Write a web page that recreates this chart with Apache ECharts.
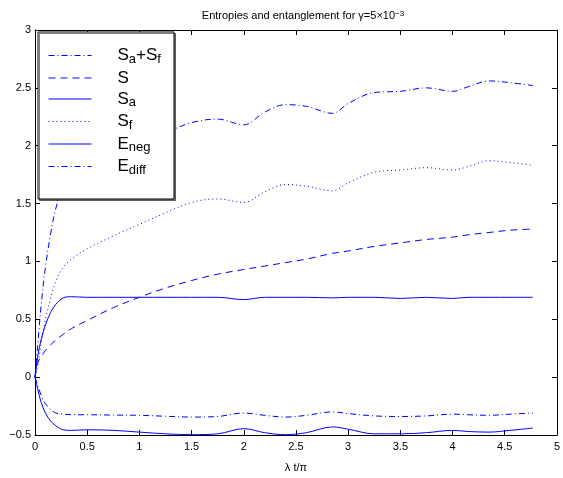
<!DOCTYPE html>
<html>
<head>
<meta charset="utf-8">
<script src="https://cdn.jsdelivr.net/npm/echarts@6/dist/echarts.min.js"></script>
<style>
html,body{margin:0;padding:0;background:#fff;}
#c{width:563px;height:478px;}
</style>
</head>
<body>
<div id="c"></div>
<script>
// ---- data ----
var t     = [0, 0.03, 0.06, 0.1, 0.15, 0.2, 0.27, 0.35, 0.5, 0.75, 1.0, 1.25, 1.5, 1.75, 2.0, 2.2, 2.4, 2.6, 2.85, 3.0, 3.25, 3.5, 3.75, 4.0, 4.15, 4.35, 4.55, 4.77];
var SaSf  = [0, 0.32, 0.63, 0.95, 1.24, 1.46, 1.64, 1.72, 1.80, 1.91, 2.01, 2.11, 2.20, 2.23, 2.18, 2.29, 2.355, 2.34, 2.28, 2.365, 2.46, 2.47, 2.50, 2.47, 2.51, 2.56, 2.545, 2.52];
var S     = [0, 0.13, 0.18, 0.23, 0.28, 0.32, 0.37, 0.42, 0.49, 0.60, 0.69, 0.77, 0.835, 0.89, 0.93, 0.96, 0.99, 1.02, 1.07, 1.09, 1.13, 1.16, 1.19, 1.21, 1.23, 1.25, 1.27, 1.28];
var Sa    = [0, 0.20, 0.33, 0.45, 0.56, 0.63, 0.685, 0.695, 0.69, 0.69, 0.69, 0.69, 0.69, 0.69, 0.67, 0.69, 0.69, 0.69, 0.685, 0.69, 0.69, 0.68, 0.69, 0.68, 0.69, 0.69, 0.69, 0.69];
var Sf    = [0, 0.12, 0.30, 0.50, 0.68, 0.83, 0.95, 1.02, 1.11, 1.22, 1.32, 1.42, 1.51, 1.54, 1.51, 1.60, 1.665, 1.65, 1.61, 1.68, 1.77, 1.79, 1.81, 1.79, 1.82, 1.87, 1.855, 1.83];
var Eneg  = [0, -0.12, -0.22, -0.31, -0.38, -0.42, -0.455, -0.46, -0.455, -0.46, -0.475, -0.49, -0.497, -0.49, -0.445, -0.48, -0.497, -0.48, -0.43, -0.45, -0.49, -0.49, -0.48, -0.46, -0.47, -0.475, -0.46, -0.44];
var Ediff = [0, -0.08, -0.16, -0.23, -0.28, -0.31, -0.32, -0.325, -0.325, -0.328, -0.33, -0.338, -0.345, -0.34, -0.31, -0.33, -0.345, -0.33, -0.30, -0.315, -0.335, -0.34, -0.335, -0.32, -0.325, -0.33, -0.32, -0.31];
var seriesNames = ['Sa+Sf', 'S', 'Sa', 'Sf', 'Eneg', 'Ediff'];
var legendLabels = {
  'Sa+Sf': '{p|}{m|S}{s|a}{m|+S}{s|f}',
  'S': '{p|}{m|S}',
  'Sa': '{p|}{m|S}{s|a}',
  'Sf': '{p|}{m|S}{s|f}',
  'Eneg': '{p|}{m|E}{s|neg}',
  'Ediff': '{p|}{m|E}{s|diff}'
};
var xTicks = {min: 0, max: 5, interval: 0.5};
var yTicks = {min: -0.5, max: 3, interval: 0.5};
var titleText = 'Entropies and entanglement for γ=5×10{sup|−3}';
var xName = 'λ t/π';

// ---- chart ----
var FONT = 'Liberation Sans, Arial, sans-serif';
var BLUE = '#0000ff';
function pairs(ys) { return t.map(function (x, i) { return [x, ys[i]]; }); }
function mkSeries(name, ys, dash) {
  return {
    name: name, type: 'line', data: pairs(ys), symbol: 'none', smooth: 0.35,
    lineStyle: {color: BLUE, width: 1, type: dash},
    itemStyle: {color: BLUE, opacity: 0, borderWidth: 0}, z: 2
  };
}
var fmt = function (v) { return String(v).replace('-', '−'); };
var axisCommon = {
  type: 'value',
  axisLine: {show: true, onZero: false, lineStyle: {color: '#000', width: 1}},
  axisTick: {show: true, inside: true, length: 5, lineStyle: {color: '#000'}},
  splitLine: {show: false}
};
var chart = echarts.init(document.getElementById('c'), null, {renderer: 'canvas'});
chart.setOption({
  animation: false,
  backgroundColor: '#fff',
  textStyle: {fontFamily: FONT},
  title: {
    text: titleText, left: 298, top: 5, textAlign: 'center',
    textStyle: {
      fontFamily: FONT, fontSize: 11, fontWeight: 'normal', color: '#000',
      rich: {sup: {fontSize: 8, fontFamily: FONT, color: '#000', verticalAlign: 'top', lineHeight: 6}}
    }
  },
  grid: {left: 35, right: 2, top: 30, bottom: 37},
  xAxis: [
    Object.assign({}, axisCommon, {
      position: 'bottom', min: xTicks.min, max: xTicks.max, interval: xTicks.interval,
      axisLabel: {show: true, color: '#000', fontSize: 11, fontFamily: FONT, margin: 6, formatter: fmt, showMaxLabel: true, showMinLabel: true},
      name: xName, nameLocation: 'middle', nameGap: 27,
      nameTextStyle: {color: '#000', fontSize: 11, fontFamily: FONT}
    }),
    Object.assign({}, axisCommon, {
      position: 'top', min: xTicks.min, max: xTicks.max, interval: xTicks.interval,
      axisLabel: {show: false}
    })
  ],
  yAxis: [
    Object.assign({}, axisCommon, {
      position: 'left', min: yTicks.min, max: yTicks.max, interval: yTicks.interval,
      axisLabel: {show: true, color: '#000', fontSize: 11, fontFamily: FONT, margin: 4, formatter: fmt}
    }),
    Object.assign({}, axisCommon, {
      position: 'right', min: yTicks.min, max: yTicks.max, interval: yTicks.interval,
      axisLabel: {show: false}
    })
  ],
  graphic: [{
    type: 'rect', z: 3, silent: true,
    shape: {x: 38, y: 32, width: 136, height: 167},
    style: {fill: '#fff', stroke: '#000', lineWidth: 1, shadowColor: 'rgba(0,0,0,0.5)', shadowBlur: 0, shadowOffsetX: 1.5, shadowOffsetY: 1.5}
  }],
  legend: {
    orient: 'vertical', left: 48, top: 47, padding: 0,
    itemWidth: 43, itemHeight: 14, itemGap: 4, z: 5,
    selectedMode: false,
    data: seriesNames,
    itemStyle: {opacity: 0, borderWidth: 0},
    lineStyle: {width: 1, color: BLUE},
    formatter: function (n) { return legendLabels[n]; },
    textStyle: {
      color: '#000', fontFamily: FONT,
      rich: {
        p: {width: 21, fontSize: 17, lineHeight: 20},
        m: {fontSize: 17, lineHeight: 20, color: '#000', fontFamily: FONT},
        s: {fontSize: 13, lineHeight: 8, verticalAlign: 'bottom', color: '#000', fontFamily: FONT}
      }
    }
  },
  series: [
    mkSeries('Sa+Sf', SaSf, [6, 3, 1, 3]),
    mkSeries('S', S, [7, 5]),
    mkSeries('Sa', Sa, 'solid'),
    mkSeries('Sf', Sf, [1, 3]),
    mkSeries('Eneg', Eneg, 'solid'),
    mkSeries('Ediff', Ediff, [6, 3, 1, 3])
  ]
});
</script>
</body>
</html>
